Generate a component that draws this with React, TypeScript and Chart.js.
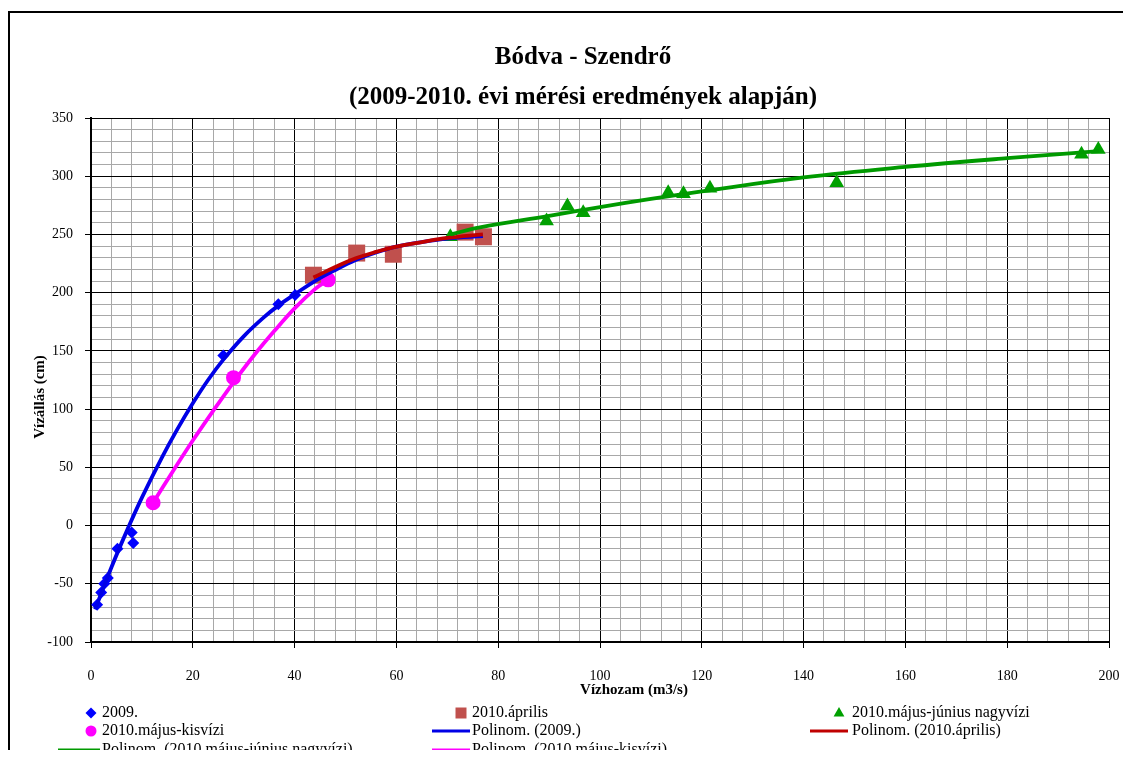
import React, { useEffect, useRef } from "react";
import { Chart, registerables } from "chart.js";

Chart.register(...registerables);

const FONT = '"Liberation Serif", "Times New Roman", serif';

// ---- texts ----
const titleLines = ["Bódva - Szendrő", "(2009-2010. évi mérési eredmények alapján)"];
const xAxisTitle = "Vízhozam (m3/s)";
const yAxisTitle = "Vízállás (cm)";

// ---- axes ----
const xMin = 0;
const xMax = 200;
const xStep = 4;
const xLabelEvery = 20;
const yMin = -100;
const yMax = 350;
const yStep = 10;
const yLabelEvery = 50;

// ---- measured points ----
const x2009 = [1.2, 2.0, 2.6, 3.3, 5.2, 8.0, 8.3, 26.0, 36.8, 40.1];
const y2009 = [-68, -57.5, -50, -45, -20, -6, -15, 146, 190, 198];

const xApr = [43.7, 52.2, 59.4, 73.5, 77.1];
const yApr = [215, 234, 233, 252, 248];

const xNagy = [70.6, 89.5, 93.6, 96.7, 113.4, 116.4, 121.6, 146.5, 194.6, 197.9];
const yNagy = [248, 261.5, 274.4, 268.7, 285.8, 285, 289.6, 294.4, 318.8, 323];

const xKis = [12.2, 28.0, 46.6];
const yKis = [19.6, 127, 211];

// ---- trendlines ----
const tr2009X = [0.8, 4, 7, 10, 14, 17, 20, 23, 26, 30, 34, 37, 40, 44, 48, 52, 56, 60, 65, 70, 77];
const tr2009Y = [-72, -36, -5, 24, 59, 83, 105, 125, 142.5, 162.5, 179, 189.5, 198.5, 210, 219.5, 228, 234.5, 239.5, 243.5, 246.5, 248.5];

const trAprX = [43.7, 48, 52, 56, 60, 65, 70, 77];
const trAprY = [213, 222, 229.5, 235, 239.5, 243.5, 247, 250];

const trNagyX = [70.6, 76.4, 90, 100, 110, 120, 140, 160, 180, 198];
const trNagyY = [250, 256, 266, 273.5, 280.5, 287, 299, 308, 315.5, 321.5];

const trKisX = [12.2, 16, 20, 24, 28, 32, 36, 40, 44, 46.6];
const trKisY = [19.6, 46, 73, 98.5, 123, 146, 167, 186.5, 203, 211];

const labels = [
  "2009.",
  "2010.április",
  "2010.május-június nagyvízi",
  "2010.május-kisvízi",
  "Polinom. (2009.)",
  "Polinom. (2010.április)",
  "Polinom. (2010.május-június nagyvízi)",
  "Polinom. (2010.május-kisvízi)",
];

const pts = (xs: number[], ys: number[]) => xs.map((x, i) => ({ x, y: ys[i] }));

const isMult = (v: number, m: number) => Math.abs(Math.round(v / m) * m - v) < 1e-6;

// legend layout (canvas coordinates)
const legendCols = [
  { s0: 48, s1: 90, tx: 92 },
  { s0: 422, s1: 460, tx: 462 },
  { s0: 800, s1: 838, tx: 842 },
];
const legendRows = [700, 718, 737];
const legendPlace = [
  [0, 0],
  [1, 0],
  [2, 0],
  [0, 1],
  [1, 1],
  [2, 1],
  [0, 2],
  [1, 2],
];

function drawMarker(ctx: CanvasRenderingContext2D, style: string, cx: number, cy: number, color: string) {
  ctx.fillStyle = color;
  ctx.beginPath();
  if (style === "rectRot") {
    const r = 5.5;
    ctx.moveTo(cx, cy - r);
    ctx.lineTo(cx + r, cy);
    ctx.lineTo(cx, cy + r);
    ctx.lineTo(cx - r, cy);
    ctx.closePath();
  } else if (style === "rect") {
    const h = 5.5;
    ctx.rect(cx - h, cy - h, 2 * h, 2 * h);
  } else if (style === "triangle") {
    const r = 6;
    ctx.moveTo(cx, cy - r);
    ctx.lineTo(cx + r * 0.9, cy + r * 0.6);
    ctx.lineTo(cx - r * 0.9, cy + r * 0.6);
    ctx.closePath();
  } else {
    ctx.arc(cx, cy, 5.5, 0, Math.PI * 2);
  }
  ctx.fill();
}

const overlayPlugin = {
  id: "overlay",
  afterDraw(chart: any) {
    const ctx: CanvasRenderingContext2D = chart.ctx;
    ctx.save();
    ctx.fillStyle = "#000";
    ctx.textAlign = "center";
    ctx.textBaseline = "middle";
    ctx.font = `bold 25px ${FONT}`;
    ctx.fillText(titleLines[0], 573, 45);
    ctx.fillText(titleLines[1], 573, 85);

    ctx.font = `bold 15px ${FONT}`;
    ctx.fillText(xAxisTitle, 624, 677);
    ctx.save();
    ctx.translate(30, 384);
    ctx.rotate(-Math.PI / 2);
    ctx.fillText(yAxisTitle, 0, 0);
    ctx.restore();

    // legend
    ctx.font = `16px ${FONT}`;
    ctx.textAlign = "left";
    chart.data.datasets.forEach((ds: any, i: number) => {
      const [c, r] = legendPlace[i];
      const col = legendCols[c];
      const y = legendRows[r];
      if (ds.showLine) {
        ctx.strokeStyle = ds.borderColor;
        ctx.lineWidth = 3;
        ctx.beginPath();
        ctx.moveTo(col.s0, y);
        ctx.lineTo(col.s1, y);
        ctx.stroke();
      } else {
        drawMarker(ctx, ds.pointStyle, col.s1 - 9, y, ds.backgroundColor);
      }
      ctx.fillStyle = "#000";
      ctx.fillText(ds.label, col.tx, y);
    });
    ctx.restore();
  },
};

export default function App() {
  const ref = useRef<HTMLCanvasElement | null>(null);

  useEffect(() => {
    if (!ref.current) return;
    const markerDs = (label: string, data: any[], style: string, radius: number, color: string, order: number) => ({
      label,
      data,
      showLine: false,
      pointStyle: style,
      pointRadius: radius,
      pointHoverRadius: radius,
      pointBorderWidth: 0,
      backgroundColor: color,
      borderColor: color,
      order,
    });
    const lineDs = (label: string, data: any[], color: string, order: number) => ({
      label,
      data,
      showLine: true,
      pointRadius: 0,
      borderColor: color,
      backgroundColor: color,
      borderWidth: 3.8,
      tension: 0.4,
      fill: false,
      order,
    });

    const chart = new Chart(ref.current, {
      type: "scatter",
      data: {
        datasets: [
          markerDs(labels[0], pts(x2009, y2009), "rectRot", 6, "#0000FF", 8),
          markerDs(labels[1], pts(xApr, yApr), "rect", 12, "#C0504D", 7),
          markerDs(labels[2], pts(xNagy, yNagy), "triangle", 8.5, "#00A000", 6),
          markerDs(labels[3], pts(xKis, yKis), "circle", 7.5, "#FF00FF", 5),
          lineDs(labels[4], pts(tr2009X, tr2009Y), "#0000E6", 4),
          lineDs(labels[5], pts(trAprX, trAprY), "#C00000", 3),
          lineDs(labels[6], pts(trNagyX, trNagyY), "#009A00", 2),
          lineDs(labels[7], pts(trKisX, trKisY), "#FF00FF", 1),
        ] as any,
      },
      options: {
        responsive: false,
        animation: false,
        devicePixelRatio: 1,
        layout: { padding: { top: 105, right: 47, bottom: 0, left: 0 } },
        plugins: {
          legend: { display: false },
          title: { display: false },
          tooltip: { enabled: false },
        },
        scales: {
          x: {
            type: "linear",
            min: xMin,
            max: xMax,
            afterFit: (s: any) => {
              s.height = 116;
            },
            ticks: {
              stepSize: xStep,
              autoSkip: false,
              maxRotation: 0,
              padding: 20,
              color: "#000",
              font: { family: FONT, size: 14 },
              callback: (v: any) => (isMult(Number(v), xLabelEvery) ? String(Math.round(Number(v))) : ""),
            },
            grid: {
              color: (c: any) => (c.tick && isMult(c.tick.value, xLabelEvery) ? "#000" : "#a8a8a8"),
              tickColor: (c: any) => (c.tick && isMult(c.tick.value, xLabelEvery) ? "#000" : "rgba(0,0,0,0)"),
              tickLength: 6,
              lineWidth: 1,
            },
            border: { color: "#000", width: 2 },
          },
          y: {
            type: "linear",
            min: yMin,
            max: yMax,
            afterFit: (s: any) => {
              s.width = 81;
            },
            ticks: {
              stepSize: yStep,
              autoSkip: false,
              padding: 12,
              color: "#000",
              font: { family: FONT, size: 14 },
              callback: (v: any) => (isMult(Number(v), yLabelEvery) ? String(Math.round(Number(v))) : ""),
            },
            grid: {
              color: (c: any) => (c.tick && isMult(c.tick.value, yLabelEvery) ? "#000" : "#a8a8a8"),
              tickColor: (c: any) => (c.tick && isMult(c.tick.value, yLabelEvery) ? "#000" : "rgba(0,0,0,0)"),
              tickLength: 6,
              lineWidth: 1,
            },
            border: { color: "#000", width: 2 },
          },
        },
      } as any,
      plugins: [overlayPlugin],
    });
    return () => chart.destroy();
  }, []);

  return (
    <div style={{ width: 1115, height: 742, overflow: "hidden", position: "relative" }}>
      <div
        style={{
          position: "absolute",
          left: 0,
          top: 3,
          width: 1200,
          height: 800,
          borderTop: "2px solid #000",
          borderLeft: "2px solid #000",
        }}
      >
        <canvas ref={ref} width={1146} height={745} style={{ display: "block", width: 1146, height: 745 }} />
      </div>
    </div>
  );
}
